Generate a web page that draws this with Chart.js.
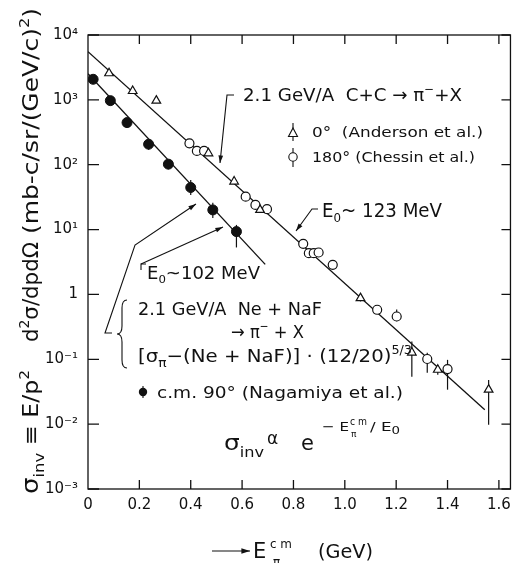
<!DOCTYPE html>
<html>
<head>
<meta charset="utf-8">
<script src="https://cdn.jsdelivr.net/npm/chart.js@4.4.1/dist/chart.umd.min.js"></script>
<style>
    html, body { margin: 0; padding: 0; background: #fff; }
    #wrap { width: 518px; height: 563px; }
</style>
</head>
<body>
<div id="wrap"><canvas id="chart" width="518" height="563"></canvas></div>
<script>
// axis ticks
const xTicks = [0, 0.2, 0.4, 0.6, 0.8, 1.0, 1.2, 1.4, 1.6];
const xTickLabels = ['0', '0.2', '0.4', '0.6', '0.8', '1.0', '1.2', '1.4', '1.6'];
const yTicks = [1e-3, 1e-2, 1e-1, 1, 1e1, 1e2, 1e3, 1e4];
const yTickLabels = ['10⁻³', '10⁻²', '10⁻¹', '1', '10¹', '10²', '10³', '10⁴'];

// C+C, 0 deg (Anderson et al.)  - open triangles
const andersonX = [0.082, 0.174, 0.266, 0.469, 0.569, 0.670, 1.061, 1.261, 1.362, 1.560];
const andersonY = [2570, 1370, 973, 150, 55, 20.1, 0.877, 0.127, 0.069, 0.034];
const andersonLo = [null, null, null, null, null, null, 0.78, 0.054, 0.058, 0.0098];
const andersonHi = [null, null, null, null, null, null, 1.0, 0.188, 0.082, 0.048];

// C+C, 180 deg (Chessin et al.) - open circles
const chessinX = [0.395, 0.424, 0.452, 0.614, 0.652, 0.697, 0.838, 0.860, 0.879, 0.898, 0.953, 1.126, 1.202, 1.321, 1.400];
const chessinY = [214, 163, 163, 32.2, 24, 20.6, 6.03, 4.33, 4.33, 4.43, 2.86, 0.58, 0.457, 0.101, 0.0706];
const chessinLo = [null, null, null, null, null, null, null, null, null, null, null, 0.5, 0.387, 0.062, 0.034];
const chessinHi = [null, null, null, null, null, null, null, null, null, null, null, 0.67, 0.587, 0.126, 0.098];

// Ne + NaF, c.m. 90 deg (Nagamiya et al.) - filled
const nagamiyaX = [0.020, 0.087, 0.152, 0.236, 0.313, 0.400, 0.486, 0.578];
const nagamiyaY = [2075, 973, 446, 207, 102, 44.5, 20.1, 9.3];
const nagamiyaLo = [null, null, null, 170, 85, 34, 15.1, 5.3];
const nagamiyaHi = [null, null, null, 240, 118, 58, 25.8, 11.8];

// exponential fits (E0 ~ 123 MeV and E0 ~ 102 MeV)
const ccFitX = [0, 1.545];
const ccFitY = [5530, 0.0167];
const neFitX = [0, 0.69];
const neFitY = [2523, 2.91];

const FONT = '"DejaVu Sans", "Liberation Sans", sans-serif';
const INK = '#111';

function pts(xs, ys) {
    return xs.map((x, i) => ({ x, y: ys[i] }));
}

// draw text made of pieces {t, s (size factor), dy (em offset)}; optional fit width
function drawRich(ctx, x, y, parts, size, fitWidth) {
    let total = 0;
    parts.forEach((p) => {
        ctx.font = `${size * (p.s || 1)}px ${FONT}`;
        total += ctx.measureText(p.t).width;
    });
    const k = fitWidth ? fitWidth / total : 1;
    ctx.save();
    ctx.translate(x, y);
    ctx.scale(k, 1);
    let cx = 0;
    parts.forEach((p) => {
        ctx.font = `${size * (p.s || 1)}px ${FONT}`;
        ctx.fillText(p.t, cx, (p.dy || 0) * size);
        cx += ctx.measureText(p.t).width;
    });
    ctx.restore();
    return x + cx * k;
}
const sup = (t) => ({ t, s: 0.65, dy: -0.45 });
const sub = (t) => ({ t, s: 0.65, dy: 0.25 });

function arrowLine(ctx, points, head = 7) {
    ctx.beginPath();
    ctx.moveTo(points[0][0], points[0][1]);
    for (let i = 1; i < points.length; i++) {
        ctx.lineTo(points[i][0], points[i][1]);
    }
    ctx.stroke();
    if (!head) return;
    const [x1, y1] = points[points.length - 2];
    const [x2, y2] = points[points.length - 1];
    const a = Math.atan2(y2 - y1, x2 - x1);
    ctx.beginPath();
    ctx.moveTo(x2, y2);
    ctx.lineTo(x2 - head * Math.cos(a - 0.3), y2 - head * Math.sin(a - 0.3));
    ctx.lineTo(x2 - head * Math.cos(a + 0.3), y2 - head * Math.sin(a + 0.3));
    ctx.closePath();
    ctx.fill();
}

const errorBars = {
    id: 'errorBars',
    beforeDatasetsDraw(chart) {
        const { ctx, scales: { x, y } } = chart;
        const sets = [
            [andersonX, andersonLo, andersonHi],
            [chessinX, chessinLo, chessinHi],
            [nagamiyaX, nagamiyaLo, nagamiyaHi]
        ];
        ctx.save();
        ctx.strokeStyle = INK;
        ctx.lineWidth = 1.2;
        sets.forEach(([xs, lo, hi]) => {
            xs.forEach((v, i) => {
                if (lo[i] == null) return;
                const px = x.getPixelForValue(v);
                ctx.beginPath();
                ctx.moveTo(px, y.getPixelForValue(lo[i]));
                ctx.lineTo(px, y.getPixelForValue(hi[i]));
                ctx.stroke();
            });
        });
        ctx.restore();
    }
};

const frame = {
    id: 'frame',
    afterDraw(chart) {
        const { ctx, chartArea: a, scales: { x, y } } = chart;
        ctx.save();
        ctx.strokeStyle = INK;
        ctx.fillStyle = INK;
        ctx.lineWidth = 1.3;
        ctx.strokeRect(a.left, a.top, a.right - a.left, a.bottom - a.top);

        // inward ticks
        ctx.beginPath();
        xTicks.forEach((v) => {
            if (v === 0) return;
            const px = x.getPixelForValue(v);
            ctx.moveTo(px, a.bottom); ctx.lineTo(px, a.bottom - 9);
            ctx.moveTo(px, a.top); ctx.lineTo(px, a.top + 9);
        });
        yTicks.forEach((v) => {
            const py = y.getPixelForValue(v);
            ctx.moveTo(a.left, py); ctx.lineTo(a.left + 11, py);
            ctx.moveTo(a.right, py); ctx.lineTo(a.right - 9, py);
        });
        ctx.stroke();

        // y-axis title (rotated)
        ctx.save();
        ctx.translate(38, 0);
        ctx.rotate(-Math.PI / 2);
        ctx.textBaseline = 'alphabetic';
        drawRich(ctx, -494, 0, [
            { t: 'σ', s: 1.1 }, { t: 'inv', s: 0.7, dy: 0.3 }, { t: ' ≡ E/p' }, sup('2')
        ], 21, 124);
        drawRich(ctx, -342, 0, [{ t: 'd' }, sup('2'), { t: 'σ/dpdΩ' }], 21, 100);
        drawRich(ctx, -234, 0, [{ t: '(mb-c/sr/(GeV/c)' }, sup('2'), { t: ')' }], 21, 226);
        ctx.restore();

        ctx.textBaseline = 'alphabetic';
        ctx.lineWidth = 1.1;

        // x-axis title
        arrowLine(ctx, [[212, 551], [250, 551]], 9);
        drawRich(ctx, 253, 558, [{ t: 'E' }], 21);
        drawRich(ctx, 270, 548, [{ t: 'c m' }], 12, 22);
        drawRich(ctx, 273, 566, [{ t: 'π' }], 12);
        drawRich(ctx, 318, 558, [{ t: '(GeV)' }], 20, 55);

        // C+C annotation
        drawRich(ctx, 243, 101, [{ t: '2.1 GeV/A  C+C → π' }, sup('−'), { t: '+X' }], 18, 219);
        arrowLine(ctx, [[234, 95], [227, 95], [220, 163]], 8);

        // legend
        ctx.lineWidth = 1.1;
        ctx.beginPath();
        ctx.moveTo(293, 123); ctx.lineTo(293, 141);
        ctx.moveTo(293, 148); ctx.lineTo(293, 167);
        ctx.stroke();
        ctx.fillStyle = '#fff';
        ctx.beginPath();
        ctx.moveTo(293, 128); ctx.lineTo(297.5, 136.5); ctx.lineTo(288.5, 136.5); ctx.closePath();
        ctx.fill(); ctx.stroke();
        ctx.beginPath();
        ctx.arc(293, 157, 4.2, 0, Math.PI * 2);
        ctx.fill(); ctx.stroke();
        ctx.fillStyle = INK;
        drawRich(ctx, 312, 137, [{ t: '0°  (Anderson et al.)' }], 14.5, 171);
        drawRich(ctx, 312, 162, [{ t: '180° (Chessin et al.)' }], 14.5, 163);

        // E0 ~ 123 MeV
        drawRich(ctx, 322, 217, [{ t: 'E' }, sub('0'), { t: '~ 123 MeV' }], 19, 120);
        arrowLine(ctx, [[318, 209], [312, 209], [296, 231]], 8);

        // E0 ~ 102 MeV
        drawRich(ctx, 147, 279, [{ t: 'E' }, sub('0'), { t: '~102 MeV' }], 17, 113);
        arrowLine(ctx, [[146, 264], [141, 264], [141, 270]], 0);
        arrowLine(ctx, [[141, 264], [223, 227]], 8);
        arrowLine(ctx, [[112, 333], [105, 333], [135, 245], [196, 204]], 8);

        // curly brace
        ctx.beginPath();
        ctx.moveTo(127, 300);
        ctx.quadraticCurveTo(122, 300, 122, 308);
        ctx.lineTo(122, 326);
        ctx.quadraticCurveTo(122, 334, 117, 334);
        ctx.quadraticCurveTo(122, 334, 122, 342);
        ctx.lineTo(122, 360);
        ctx.quadraticCurveTo(122, 368, 127, 368);
        ctx.stroke();

        drawRich(ctx, 138, 315, [{ t: '2.1 GeV/A  Ne + NaF' }], 18, 184);
        drawRich(ctx, 231, 338, [{ t: '→ π' }, sup('−'), { t: ' + X' }], 18, 73);
        drawRich(ctx, 138, 362, [
            { t: '[σ' }, { t: 'π', s: 0.7, dy: 0.25 }, { t: '−(Ne + NaF)] · (12/20)' }, sup('5/3')
        ], 18, 274);

        // filled legend marker
        ctx.beginPath();
        ctx.arc(143, 392, 4.2, 0, Math.PI * 2);
        ctx.fill();
        ctx.beginPath();
        ctx.moveTo(143, 386); ctx.lineTo(143, 398);
        ctx.stroke();
        drawRich(ctx, 157, 398, [{ t: 'c.m. 90° (Nagamiya et al.)' }], 16, 246);

        // sigma_inv formula
        drawRich(ctx, 224, 450, [{ t: 'σ' }, { t: 'inv', s: 0.65, dy: 0.3 }], 22, 40);
        drawRich(ctx, 267, 444, [{ t: 'α' }], 17);
        drawRich(ctx, 301, 450, [{ t: 'e' }], 21);
        const ex = drawRich(ctx, 322, 431, [{ t: '− E' }], 13, 27);
        drawRich(ctx, ex + 1, 425, [{ t: 'c m' }], 10, 17);
        drawRich(ctx, ex + 2, 437, [{ t: 'π' }], 9);
        drawRich(ctx, ex + 21, 431, [{ t: '/ E' }, { t: '0', s: 0.8, dy: 0.2 }], 13, 30);

        ctx.restore();
    }
};

new Chart(document.getElementById('chart'), {
    type: 'scatter',
    data: {
        datasets: [
            {
                label: '0° (Anderson et al.)',
                data: pts(andersonX, andersonY),
                pointStyle: 'triangle',
                pointRadius: 5,
                backgroundColor: '#fff',
                borderColor: INK,
                borderWidth: 1.2
            },
            {
                label: '180° (Chessin et al.)',
                data: pts(chessinX, chessinY),
                pointStyle: 'circle',
                pointRadius: 4.5,
                backgroundColor: '#fff',
                borderColor: INK,
                borderWidth: 1.2
            },
            {
                label: 'c.m. 90° (Nagamiya et al.)',
                data: pts(nagamiyaX, nagamiyaY),
                pointStyle: 'circle',
                pointRadius: 5,
                backgroundColor: INK,
                borderColor: INK,
                borderWidth: 1
            },
            {
                label: 'E0 ~ 123 MeV',
                type: 'line',
                data: pts(ccFitX, ccFitY),
                borderColor: INK,
                borderWidth: 1.3,
                pointRadius: 0
            },
            {
                label: 'E0 ~ 102 MeV',
                type: 'line',
                data: pts(neFitX, neFitY),
                borderColor: INK,
                borderWidth: 1.3,
                pointRadius: 0
            }
        ]
    },
    options: {
        responsive: false,
        animation: false,
        layout: { padding: { top: 35, right: 2, left: 0, bottom: 0 } },
        plugins: {
            legend: { display: false },
            tooltip: { enabled: false }
        },
        scales: {
            x: {
                type: 'linear',
                min: 0,
                max: 1.645,
                grid: { display: false, drawTicks: false },
                border: { display: false },
                afterBuildTicks: (scale) => {
                    scale.ticks = xTicks.map((value) => ({ value }));
                },
                afterFit: (scale) => {
                    scale.height = 74;
                },
                ticks: {
                    padding: 7,
                    color: INK,
                    maxRotation: 0,
                    autoSkip: false,
                    font: { family: FONT, size: 15 },
                    callback: (value) => xTickLabels[xTicks.indexOf(value)]
                }
            },
            y: {
                type: 'logarithmic',
                min: 1e-3,
                max: 1e4,
                grid: { display: false, drawTicks: false },
                border: { display: false },
                afterBuildTicks: (scale) => {
                    scale.ticks = yTicks.map((value) => ({ value }));
                },
                afterFit: (scale) => {
                    scale.width = 88;
                },
                ticks: {
                    padding: 10,
                    color: INK,
                    autoSkip: false,
                    font: { family: FONT, size: 15 },
                    callback: (value) => yTickLabels[yTicks.indexOf(value)]
                }
            }
        }
    },
    plugins: [errorBars, frame]
});
</script>
</body>
</html>
